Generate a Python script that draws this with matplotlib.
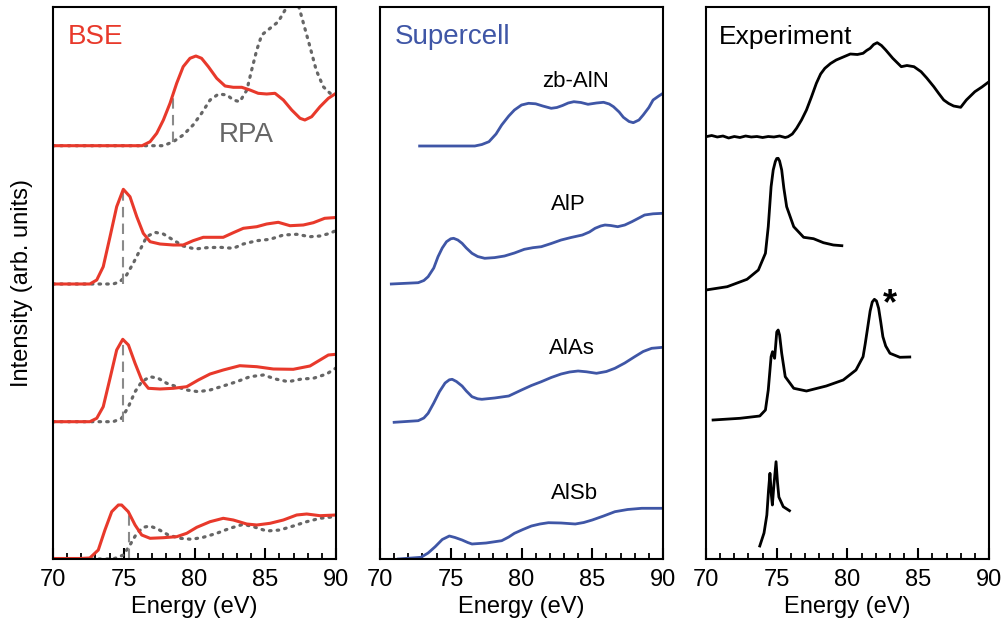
import matplotlib
matplotlib.use('Agg')
import matplotlib.pyplot as plt
from matplotlib.ticker import MultipleLocator

plt.rcParams['font.family'] = ['Liberation Sans', 'DejaVu Sans']

RED = '#e8392b'
BLUE = '#3f56a6'
GRAY = '#666666'

# curves are stored as (energy, pixel-row) pairs; y = TOP - row
TOP = 559

# ---- BSE / RPA panel ----
bse1_e = [70, 76.3, 76.86, 77.33, 77.8, 78.27, 78.74, 79.2, 79.68, 80.1, 80.5, 80.98, 81.57, 82.16,
          82.74, 83.34, 83.92, 84.5, 85.1, 85.69, 86.28, 86.87, 87.46, 87.8, 88.28, 88.87, 89.46, 90]
bse1_p = [145.7, 145.7, 141.7, 133.3, 120, 103.3, 83.3, 66.7, 58.3, 56, 58.3, 66.7, 78.3, 86,
          87.3, 87.3, 90, 93.3, 94, 93.3, 100, 110, 118.3, 120, 116.7, 106.7, 98.3, 93.3]
rpa1_e = [70, 77.8, 78.5, 79.2, 79.9, 80.5, 81.1, 81.7, 82.3, 82.74, 83.2, 83.7, 84.04, 84.4, 84.75,
          85.34, 85.92, 86.4, 86.75, 87.3, 87.7, 88.16, 88.6, 89.1, 89.58, 90]
rpa1_p = [145.7, 145.7, 141.7, 135, 125, 113.3, 100, 94, 95, 100, 101.7, 90, 70, 50, 35,
          28.3, 21.7, 10, 2, 3, 23.3, 46.7, 70, 86.7, 93.3, 93.3]

bse2_e = [70, 72.6, 73.09, 73.55, 74.03, 74.5, 74.97, 75.44, 75.92, 76.38, 76.86, 77.56, 78.5, 79.2,
          79.9, 80.62, 81.33, 82.03, 82.74, 83.45, 84.4, 85.1, 85.92, 86.75, 87.69, 88.4, 89.2, 90]
bse2_p = [284, 284, 280, 266.7, 236.7, 206.7, 189.3, 196.7, 216.7, 233.3, 241.7, 244, 245, 245,
          240.7, 237.3, 237.3, 237.3, 232.7, 228.3, 226.7, 224, 222.3, 225.7, 225, 222.7, 218.3, 217.5]
rpa2_e = [70, 74.26, 74.73, 75.2, 75.67, 76.15, 76.62, 77.2, 77.8, 78.5, 79.2, 80.04, 80.86, 81.8,
          82.74, 83.45, 84.4, 85.34, 86.28, 87.22, 88.16, 88.87, 89.58, 90]
rpa2_p = [284, 284, 281.7, 275, 263.3, 250, 236.7, 232.3, 234, 240, 246, 249, 247.7, 247.3,
          248.3, 244, 240.7, 239.3, 235, 234.3, 236.7, 236, 233.3, 230.5]

bse3_e = [70, 72.6, 73.09, 73.55, 74.03, 74.5, 74.93, 75.33, 75.8, 76.27, 76.74, 77.56, 78.5, 79.45,
          80.27, 81.1, 82.03, 83.2, 84.4, 85.57, 86.98, 88.16, 88.87, 89.46, 90]
bse3_p = [421.7, 421.7, 418.3, 406.7, 378.3, 350, 339.3, 345, 363.3, 380, 388.3, 389, 388.3, 386.7,
          380, 374, 370, 365.7, 366.7, 369, 369.3, 366, 360, 355, 354.3]
rpa3_e = [70, 74.26, 74.85, 75.33, 75.8, 76.27, 76.86, 77.44, 78.04, 78.74, 79.45, 80.27, 81.1, 82.03,
          82.98, 83.92, 84.86, 85.81, 86.63, 87.58, 88.4, 89.34, 90]
rpa3_p = [421.7, 421.7, 418.3, 406.7, 391.7, 381.7, 376.7, 378.3, 383.3, 386.7, 390, 391.7, 390, 386,
          381.7, 376.7, 375, 379.3, 381.7, 379, 378.3, 374, 368]

bse4_e = [70, 71.9, 72.6, 73.2, 73.67, 74.15, 74.62, 74.85, 75.32, 75.8, 76.27, 76.86, 77.8, 78.74,
          79.45, 80.16, 81.1, 82.03, 82.74, 83.69, 84.4, 85.34, 86.28, 87.22, 87.93, 88.87, 90]
bse4_p = [558.5, 558.5, 558, 550, 530, 511.7, 505, 505, 511.7, 525, 535, 538.3, 537.7, 536.7,
          533.3, 527.3, 521.7, 518.3, 520, 524, 525, 523.3, 520, 515, 514, 515.7, 515]
rpa4_e = [70, 74.26, 74.97, 75.44, 75.92, 76.38, 76.86, 77.44, 78.15, 78.98, 79.8, 80.62, 81.57,
          82.5, 83.45, 84.16, 85.1, 86.04, 86.98, 87.93, 88.87, 90]
rpa4_p = [559, 559, 555, 545, 533.3, 527.3, 526, 529.3, 535, 538.3, 539.3, 537.3, 533.3,
          528.3, 524.3, 526.7, 531, 530, 526, 521.7, 518.3, 516.5]

# onset markers (energy, lower row, upper row)
onsets = [(78.5, 142, 98), (74.97, 284, 189.3), (74.97, 421.7, 339.3), (75.4, 559, 511.7)]

# ---- Supercell panel ----
sc_names = ['zb-AlN', 'AlP', 'AlAs', 'AlSb']
sc_label_pos = [(83.8, 81.7), (83.3, 205), (83.55, 348.3), (83.75, 493.3)]
aln_e = [72.8, 76.7, 77.2, 77.7, 78.2, 78.6, 79.1, 79.5, 80.0, 80.5, 81.0, 81.5, 82.1, 82.5, 82.9,
         83.3, 83.7, 84.2, 84.7, 85.3, 85.8, 86.2, 86.5, 86.9, 87.2, 87.6, 87.9, 88.3, 88.6, 89.0,
         89.3, 89.7, 90]
aln_p = [146, 146, 144.5, 141.7, 134, 125, 116, 110, 105, 103.3, 103.8, 106, 108.3, 107.5, 105.5,
         103, 101.7, 102.5, 104.3, 103, 102.3, 104, 106.7, 112, 117.3, 121.5, 122.7, 120, 115, 107.5,
         100, 96, 93.3]
alp_e = [70.8, 72.7, 73.1, 73.4, 73.8, 74.1, 74.4, 74.7, 75.0, 75.2, 75.5, 75.8, 76.1, 76.5, 76.9,
         77.4, 78.1, 78.8, 79.5, 80.2, 80.8, 81.4, 82.1, 82.8, 83.5, 84.3, 84.8, 85.2, 85.6, 85.9,
         86.3, 86.8, 87.3, 87.8, 88.3, 88.7, 89.3, 90]
alp_p = [284, 282.7, 280.5, 276.7, 268, 256.7, 248, 241.7, 238.8, 238.3, 240, 243.3, 248, 253.3, 256.5,
         258.3, 257.6, 256, 253, 249.3, 247.7, 246.7, 243.5, 240, 237.5, 235, 232, 228.3, 226, 225,
         225.5, 226.7, 225, 221.7, 218, 215, 213.8, 213.3]
alas_e = [71.0, 72.7, 73.1, 73.4, 73.8, 74.2, 74.6, 74.9, 75.1, 75.4, 75.8, 76.1, 76.5, 76.9, 77.2,
          78.1, 79.1, 80.0, 80.7, 81.4, 82.1, 82.8, 83.4, 84.0, 84.6, 85.3, 86.0, 86.6, 87.3, 88.0,
          88.6, 89.2, 90]
alas_p = [422.3, 420.7, 418, 413.3, 403, 391.7, 383, 379.8, 379.3, 381.5, 386, 391, 396.7, 398.8, 399.3,
          398, 396, 390, 385.5, 381.7, 377.5, 374, 372, 371, 371.8, 373.3, 371.5, 368.3, 363, 356.7,
          351.5, 348.3, 347.3]
alsb_e = [71.3, 72.9, 73.4, 73.9, 74.4, 74.9, 75.3, 75.8, 76.2, 76.5, 77.5, 78.6, 79.1, 79.5, 80.1,
          80.7, 81.3, 81.9, 82.8, 83.8, 84.4, 85.0, 85.8, 86.6, 87.5, 88.5, 90]
alsb_p = [559, 557.3, 553, 546.7, 539.5, 536, 537.5, 540, 542.5, 544, 543, 540.7, 537, 533.3, 529.5,
          526, 524, 522.7, 523, 524, 522.5, 520, 516, 511.7, 509.5, 508.3, 508.3]

# ---- Experiment panel ----
ex1_e = [70.0, 70.4, 70.8, 71.2, 71.6, 72.0, 72.4, 72.8, 73.2, 73.6, 74.0, 74.4, 74.8, 75.2, 75.6,
         75.8, 76.1, 76.4, 76.75, 77.1, 77.45, 77.8, 78.1, 78.4, 78.8, 79.2, 79.7, 80.2, 80.7, 81.1,
         81.35, 81.6, 81.85, 82.1, 82.4, 82.7, 83.2, 83.8, 84.2, 84.7, 85.2, 85.6, 86.1, 86.45, 86.8,
         87.15, 87.5, 88.0, 88.4, 89.0, 89.5, 90]
ex1_p = [136.7, 135.5, 137, 136, 138, 136.5, 137.5, 136, 137, 136.5, 137.5, 136.5, 137, 136, 137.5,
         136.7, 134, 128.3, 120, 110, 97, 83.3, 74, 68.3, 63.5, 60, 57, 54, 54.5, 53.3,
         50.5, 48.3, 44.5, 42.7, 45.5, 50, 58.3, 66.7, 65.5, 66.7, 71.7, 78, 86.7, 93.5, 100,
         103.5, 106, 107.3, 100, 91.7, 87, 81.7]
ex2_e = [70.0, 71.5, 72.9, 73.7, 74.2, 74.4, 74.6, 74.75, 74.9, 75.0, 75.1, 75.2, 75.35, 75.5, 75.7,
         76.2, 76.9, 77.6, 78.3, 79.0, 79.6]
ex2_p = [290, 286.7, 279.3, 270, 253.3, 226.7, 186.7, 170, 161.5, 158.5, 158.3, 161, 170, 188, 206.7,
         226.7, 237.3, 238.7, 242.7, 245, 245.7]
ex3_e = [70.5, 72.4, 73.8, 74.2, 74.4, 74.6, 74.7, 74.85, 75.0, 75.1, 75.2, 75.35, 75.6, 76.2, 77.1,
         78.5, 79.7, 80.6, 81.1, 81.25, 81.4, 81.6, 81.75, 81.9, 82.05, 82.2, 82.35, 82.5, 82.7, 83.0,
         83.7, 84.4]
ex3_p = [420, 418.3, 416, 410, 390, 356.7, 351.7, 358.3, 332, 330, 335, 353.3, 376.7, 388.3, 391,
         386, 380, 370, 356.7, 344, 330, 311, 302, 299.3, 301, 308.3, 322, 336.7, 346, 353.3,
         357.3, 357]
ex4_e = [73.8, 74.1, 74.3, 74.42, 74.52, 74.62, 74.69, 74.8, 74.95, 75.05, 75.15, 75.46, 75.9]
ex4_p = [546, 533, 515, 490, 473.3, 495, 505, 485, 461.7, 482, 497, 506.7, 510.7]


def up(p):
    return [TOP - v for v in p]


def style(ax):
    ax.set_xlim(70, 90)
    ax.set_ylim(0, 552)
    ax.set_yticks([])
    ax.xaxis.set_major_locator(MultipleLocator(5))
    ax.xaxis.set_minor_locator(MultipleLocator(1))
    ax.tick_params(axis='x', which='major', direction='in', length=8, width=1.5,
                   labelsize=17, pad=7)
    ax.tick_params(axis='x', which='minor', direction='in', length=4.5, width=1.3)
    for s in ax.spines.values():
        s.set_linewidth(1.5)
    ax.set_xlabel('Energy (eV)', fontsize=17, labelpad=4)


fig = plt.figure(figsize=(10.03, 6.33), dpi=100)
w = 283 / 1003
b = 1 - 559 / 633
h = 552 / 633
ax1 = fig.add_axes([53 / 1003, b, w, h])
ax2 = fig.add_axes([380 / 1003, b, w, h])
ax3 = fig.add_axes([706 / 1003, b, w, h])

# panel 1
for e, p in [(rpa1_e, rpa1_p), (rpa2_e, rpa2_p), (rpa3_e, rpa3_p), (rpa4_e, rpa4_p)]:
    ax1.plot(e, up(p), color=GRAY, lw=2.3, ls=(0, (0.5, 1.9)), dash_capstyle='round')
for en, p0, p1 in onsets:
    ax1.plot([en, en], [TOP - p0, TOP - p1], color='#8a8a8a', lw=1.5, ls=(0, (5, 3)))
for e, p in [(bse1_e, bse1_p), (bse2_e, bse2_p), (bse3_e, bse3_p), (bse4_e, bse4_p)]:
    ax1.plot(e, up(p), color=RED, lw=2.2, solid_joinstyle='round', solid_capstyle='round')
ax1.text(0.053, TOP - 37, 'BSE', color=RED, fontsize=20, va='center',
         transform=ax1.get_yaxis_transform())
ax1.text(83.64, TOP - 135, 'RPA', color=GRAY, fontsize=20, va='center', ha='center')
style(ax1)

# panel 2
for e, p in [(aln_e, aln_p), (alp_e, alp_p), (alas_e, alas_p), (alsb_e, alsb_p)]:
    ax2.plot(e, up(p), color=BLUE, lw=2.0, solid_joinstyle='round')
for name, (xe, yp) in zip(sc_names, sc_label_pos):
    ax2.text(xe, TOP - yp, name, fontsize=16, ha='center', va='center')
ax2.text(0.053, TOP - 37, 'Supercell', color=BLUE, fontsize=20, va='center',
         transform=ax2.get_yaxis_transform())
style(ax2)

# panel 3
for e, p in [(ex1_e, ex1_p), (ex2_e, ex2_p), (ex3_e, ex3_p), (ex4_e, ex4_p)]:
    ax3.plot(e, up(p), color='black', lw=2.0, solid_joinstyle='round')
ax3.text(0.047, TOP - 37, 'Experiment', color='black', fontsize=19, va='center',
         transform=ax3.get_yaxis_transform())
ax3.text(83.0, TOP - 305, '*', fontsize=26, fontweight='bold', ha='center', va='center')
style(ax3)

fig.text(22 / 1003, 1 - 283 / 633, 'Intensity (arb. units)', rotation=90,
         fontsize=17, ha='center', va='center')

fig.savefig('out.png', dpi=100)
